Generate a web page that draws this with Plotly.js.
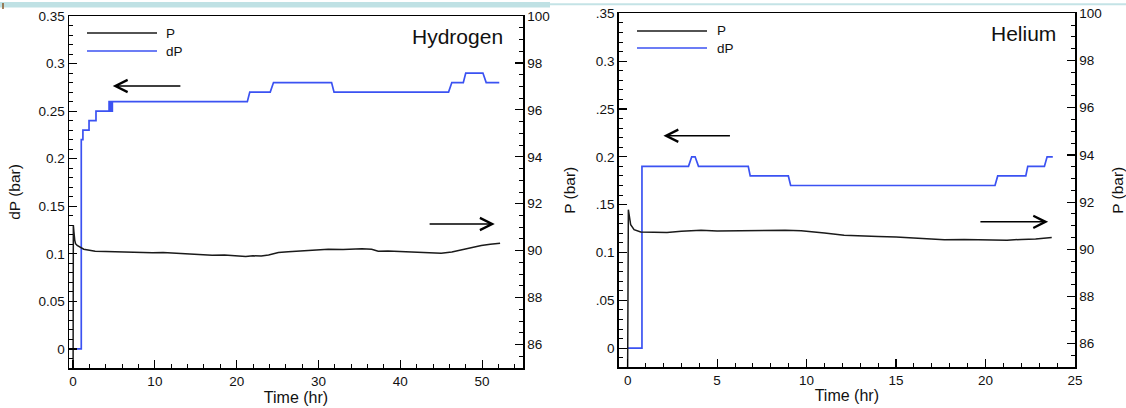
<!DOCTYPE html>
<html>
<head>
<meta charset="utf-8">
<script src="https://cdn.plot.ly/plotly-3.0.1.min.js"></script>
<style>html,body{margin:0;padding:0;background:#fff;}#chart{width:1126px;height:408px;}</style>
</head>
<body>
<div id="chart"></div>
<script>
// ---------- Data ----------
// Hydrogen: dP (bar, left axis) step trace
const h2_dP_t = [0, 1.0, 1.0, 1.2, 1.2, 1.95, 1.95, 2.8, 2.8, 4.4, 4.4, 4.5, 4.5, 4.6, 4.6, 4.7, 4.7, 4.8, 4.8,
                 21.3, 21.6, 24.1, 24.5, 31.6, 31.9, 45.9, 46.3, 47.7, 48.0, 50.1, 50.5, 52.1];
const h2_dP   = [0, 0, 0.22, 0.22, 0.23, 0.23, 0.24, 0.24, 0.25, 0.25, 0.26, 0.26, 0.25, 0.25, 0.26, 0.26, 0.25, 0.25, 0.26,
                 0.26, 0.27, 0.27, 0.28, 0.28, 0.27, 0.27, 0.28, 0.28, 0.29, 0.29, 0.28, 0.28];
// Hydrogen: P (bar, right axis)
const h2_P_t = [0, 0.03, 0.1, 0.2, 0.3, 0.5, 0.7, 1.0, 1.3, 2.0, 2.7, 4, 5.6, 7, 8.5, 9.7, 11, 12.5, 13.7, 15,
                16, 17, 18.5, 20, 21.1, 22, 23, 23.9, 25.1, 26.3, 27.6, 29, 31.2, 33, 35.3, 36.5, 37.3, 38.5, 40.6, 42,
                43.5, 45, 46.3, 47.1, 47.9, 49, 49.9, 51, 52.2];
const h2_P   = [85, 91.09, 90.8, 90.45, 90.3, 90.22, 90.18, 90.12, 90.06, 90.02, 89.98, 89.96, 89.94, 89.95, 89.92, 89.91, 89.92, 89.89, 89.88, 89.87,
                89.85, 89.81, 89.82, 89.79, 89.75, 89.78, 89.77, 89.82, 89.92, 89.95, 89.98, 90.01, 90.06, 90.05, 90.08, 90.06, 89.98, 89.99, 89.95, 89.94,
                89.91, 89.89, 89.94, 90.0, 90.08, 90.15, 90.22, 90.27, 90.32];
// Helium: dP
const he_dP_t = [0, 0.8, 0.8, 3.4, 3.58, 3.77, 3.96, 6.74, 6.85, 8.98, 9.11, 20.53, 20.68, 22.25, 22.36, 23.29, 23.44, 23.76];
const he_dP   = [0, 0, 0.19, 0.19, 0.2, 0.2, 0.19, 0.19, 0.18, 0.18, 0.17, 0.17, 0.18, 0.18, 0.19, 0.19, 0.2, 0.2];
// Helium: P
const he_P_t = [0, 0.04, 0.17, 0.36, 0.73, 1.5, 2.2, 3.0, 4.1, 5.0, 5.96, 7.0, 7.8, 8.8, 9.7, 10.4, 11.0, 12.1, 13.0, 14.0,
                15.0, 15.9, 16.8, 17.7, 18.8, 20.0, 20.5, 21.2, 22.0, 22.8, 23.7];
const he_P   = [85, 91.68, 91.04, 90.83, 90.73, 90.72, 90.71, 90.76, 90.81, 90.78, 90.79, 90.8, 90.83, 90.81, 90.79, 90.75, 90.69, 90.6, 90.56, 90.54,
                90.52, 90.48, 90.45, 90.4, 90.41, 90.39, 90.36, 90.38, 90.42, 90.44, 90.5];

// Tick labels
const dPTickVals = [0, 0.05, 0.1, 0.15, 0.2, 0.25, 0.3, 0.35];
const dPTickTextLeft  = ["0", "0.05", "0.1", "0.15", "0.2", "0.25", "0.3", "0.35"];
const dPTickTextRight = ["0", ".05", "0.1", ".15", "0.2", ".25", "0.3", ".35"];
const PTickVals = [86, 88, 90, 92, 94, 96, 98, 100];
const panelTitles = ["Hydrogen", "Helium"];
const seriesNames = ["P", "dP"];
const xTitle = "Time (hr)";

// ---------- Style ----------
const BLUE = "#3b52f2";
const BLACK = "#1a1a1a";
const FONT = "Liberation Sans, Arial, sans-serif";
const W = 1126, H = 408;
const px = v => v / W;
const py = v => 1 - v / H;

const traces = [
  {x: h2_P_t, y: h2_P, xaxis: "x", yaxis: "y2", mode: "lines", name: seriesNames[0], line: {color: BLACK, width: 1.5}},
  {x: h2_dP_t, y: h2_dP, xaxis: "x", yaxis: "y", mode: "lines", name: seriesNames[1], line: {color: BLUE, width: 1.7}},
  {x: he_P_t, y: he_P, xaxis: "x2", yaxis: "y4", mode: "lines", name: seriesNames[0], line: {color: BLACK, width: 1.5}},
  {x: he_dP_t, y: he_dP, xaxis: "x2", yaxis: "y3", mode: "lines", name: seriesNames[1], line: {color: BLUE, width: 1.7}}
];

const axCommon = {
  showline: true, linecolor: "#000", linewidth: 1.5, showgrid: false, zeroline: false,
  ticks: "inside", ticklen: 8, tickwidth: 1.2, tickcolor: "#000",
  tickfont: {family: FONT, size: 13.5, color: "#111"}, automargin: false, fixedrange: true
};
const xTitleObj = {text: xTitle, font: {family: FONT, size: 16, color: "#111"}, standoff: 3};

const layout = {
  width: W, height: H, autosize: false,
  margin: {l: 0, r: 0, t: 0, b: 0},
  paper_bgcolor: "#fff", plot_bgcolor: "#fff",
  showlegend: false,
  font: {family: FONT, color: "#111"},
  xaxis: Object.assign({}, axCommon, {
    domain: [px(69), px(523)], anchor: "y", range: [-0.5, 55], mirror: true,
    tickvals: [0, 10, 20, 30, 40, 50],
    minor: {dtick: 2, tick0: 0, ticks: "inside", ticklen: 4, tickcolor: "#000", tickwidth: 1},
    title: xTitleObj
  }),
  yaxis: Object.assign({}, axCommon, {
    domain: [py(368), py(16)], anchor: "x", range: [-0.02, 0.35],
    tickvals: dPTickVals, ticktext: dPTickTextLeft,
    minor: {dtick: 0.01, tick0: 0, ticks: "inside", ticklen: 4, tickcolor: "#000", tickwidth: 1},
    title: {text: "dP (bar)", font: {family: FONT, size: 15.5, color: "#111"}, standoff: 14}
  }),
  yaxis2: Object.assign({}, axCommon, {
    overlaying: "y", side: "right", anchor: "x", range: [85, 100],
    tickvals: PTickVals,
    minor: {dtick: 0.5, tick0: 0, ticks: "inside", ticklen: 4, tickcolor: "#000", tickwidth: 1}
  }),
  xaxis2: Object.assign({}, axCommon, {
    domain: [px(618.7), px(1075)], anchor: "y3", range: [-0.5, 25], mirror: true,
    tickvals: [0, 5, 10, 15, 20, 25],
    minor: {dtick: 1, tick0: 0, ticks: "inside", ticklen: 4, tickcolor: "#000", tickwidth: 1},
    title: xTitleObj
  }),
  yaxis3: Object.assign({}, axCommon, {
    domain: [py(367.3), py(13.3)], anchor: "x2", range: [-0.02, 0.35],
    tickvals: dPTickVals, ticktext: dPTickTextRight,
    minor: {dtick: 0.01, tick0: 0, ticks: "inside", ticklen: 4, tickcolor: "#000", tickwidth: 1},
    title: {text: "P (bar)", font: {family: FONT, size: 15.5, color: "#111"}, standoff: 16}
  }),
  yaxis4: Object.assign({}, axCommon, {
    overlaying: "y3", side: "right", anchor: "x2", range: [85, 100],
    tickvals: PTickVals,
    minor: {dtick: 0.5, tick0: 0, ticks: "inside", ticklen: 4, tickcolor: "#000", tickwidth: 1},
    title: {text: "P (bar)", font: {family: FONT, size: 15.5, color: "#111"}, standoff: 12}
  }),
  shapes: [
    // slide decoration at top
    {type: "rect", xref: "paper", yref: "paper", x0: 0, x1: px(550), y0: py(7.5), y1: py(2), fillcolor: "#bfe1e4", line: {width: 0}, layer: "below"},
    {type: "line", xref: "paper", yref: "paper", x0: px(550), x1: 1, y0: py(4.3), y1: py(4.3), line: {color: "#c4e3e6", width: 2}},
    {type: "line", xref: "paper", yref: "paper", x0: px(3), x1: px(3), y0: py(3), y1: py(9), line: {color: "#8a5a2a", width: 1.5}},
    // legend samples
    {type: "line", xref: "paper", yref: "paper", x0: px(87), x1: px(157), y0: py(33), y1: py(33), line: {color: BLACK, width: 1.4}},
    {type: "line", xref: "paper", yref: "paper", x0: px(87), x1: px(157), y0: py(51), y1: py(51), line: {color: BLUE, width: 1.6}},
    {type: "line", xref: "paper", yref: "paper", x0: px(637), x1: px(707), y0: py(31), y1: py(31), line: {color: BLACK, width: 1.4}},
    {type: "line", xref: "paper", yref: "paper", x0: px(637), x1: px(707), y0: py(48), y1: py(48), line: {color: BLUE, width: 1.6}}
  ],
  annotations: [
    {text: panelTitles[0], xref: "paper", yref: "paper", x: px(457), y: py(36), xanchor: "center", yanchor: "middle", showarrow: false, font: {family: FONT, size: 21, color: "#111"}},
    {text: panelTitles[1], xref: "paper", yref: "paper", x: px(1023), y: py(33), xanchor: "center", yanchor: "middle", showarrow: false, font: {family: FONT, size: 21, color: "#111"}},
    {text: seriesNames[0], xref: "paper", yref: "paper", x: px(164), y: py(33), xanchor: "left", yanchor: "middle", showarrow: false, font: {family: FONT, size: 13.5, color: "#111"}},
    {text: seriesNames[1], xref: "paper", yref: "paper", x: px(164), y: py(51), xanchor: "left", yanchor: "middle", showarrow: false, font: {family: FONT, size: 13.5, color: "#111"}},
    {text: seriesNames[0], xref: "paper", yref: "paper", x: px(715), y: py(31), xanchor: "left", yanchor: "middle", showarrow: false, font: {family: FONT, size: 13.5, color: "#111"}},
    {text: seriesNames[1], xref: "paper", yref: "paper", x: px(715), y: py(48), xanchor: "left", yanchor: "middle", showarrow: false, font: {family: FONT, size: 13.5, color: "#111"}},
    // arrows
    {text: "", xref: "x", yref: "y", x: 4.85, y: 0.2764, axref: "x", ayref: "y", ax: 13.3, ay: 0.2764, showarrow: true, arrowhead: 5, arrowsize: 1.6, arrowwidth: 1.5, arrowcolor: "#000"},
    {text: "", xref: "x", yref: "y", x: 51.55, y: 0.1313, axref: "x", ayref: "y", ax: 43.4, ay: 0.1313, showarrow: true, arrowhead: 5, arrowsize: 1.6, arrowwidth: 1.5, arrowcolor: "#000"},
    {text: "", xref: "x2", yref: "y3", x: 2.0, y: 0.222, axref: "x2", ayref: "y3", ax: 5.8, ay: 0.222, showarrow: true, arrowhead: 5, arrowsize: 1.6, arrowwidth: 1.5, arrowcolor: "#000"},
    {text: "", xref: "x2", yref: "y3", x: 23.5, y: 0.132, axref: "x2", ayref: "y3", ax: 19.63, ay: 0.132, showarrow: true, arrowhead: 5, arrowsize: 1.6, arrowwidth: 1.5, arrowcolor: "#000"}
  ]
};

Plotly.newPlot("chart", traces, layout, {staticPlot: true, displayModeBar: false});
</script>
</body>
</html>
